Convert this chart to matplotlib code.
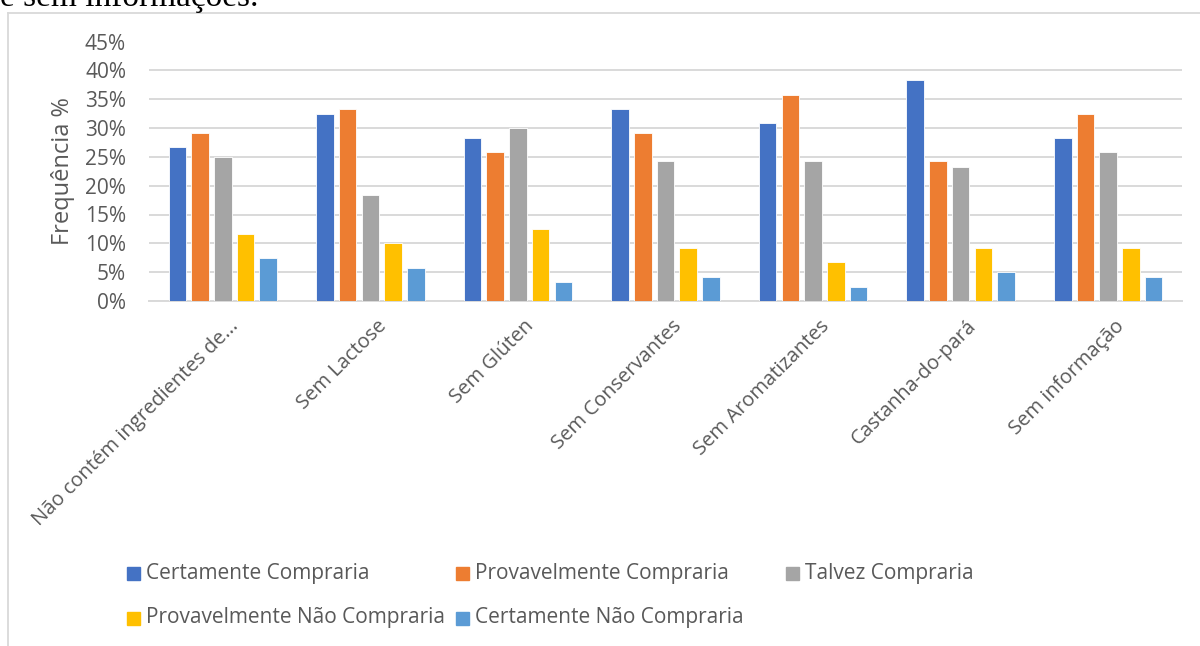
import numpy as np
import matplotlib.pyplot as plt
from matplotlib.lines import Line2D
from matplotlib.patches import Rectangle
from matplotlib.ticker import PercentFormatter

# ---- data ----
categorias = ["Não contém ingredientes de...", "Sem Lactose", "Sem Glúten",
              "Sem Conservantes", "Sem Aromatizantes", "Castanha-do-pará",
              "Sem informação"]
series = ["Certamente Compraria", "Provavelmente Compraria", "Talvez Compraria",
          "Provavelmente Não Compraria", "Certamente Não Compraria"]
certamente_compraria   = [26.7, 32.5, 28.3, 33.3, 30.8, 38.3, 28.3]
provavelmente_compraria = [29.2, 33.3, 25.8, 29.2, 35.8, 24.2, 32.5]
talvez_compraria       = [25.0, 18.3, 30.0, 24.2, 24.2, 23.3, 25.8]
provavelmente_nao      = [11.7, 10.0, 12.5, 9.2, 6.7, 9.2, 9.2]
certamente_nao         = [7.5, 5.8, 3.3, 4.2, 2.5, 5.0, 4.2]
valores = [certamente_compraria, provavelmente_compraria, talvez_compraria,
           provavelmente_nao, certamente_nao]
cores = ["#4472C4", "#ED7D31", "#A5A5A5", "#FFC000", "#5B9BD5"]

TXT = "#595959"
GRID = "#D9D9D9"
FONT = "Open Sans"

fig = plt.figure(figsize=(12, 6.46), dpi=100)
fig.patch.set_facecolor("white")

# texto do documento cortado no topo
fig.text(0.0, 1 - 6 / 646, "e sem informações.", family="Liberation Serif",
         fontsize=24, va="baseline", ha="left", color="black")

# borda da área do gráfico
fig.add_artist(Line2D([8 / 1200, 8 / 1200], [0, 1 - 12.7 / 646],
                      transform=fig.transFigure, color=GRID, lw=1.3))
fig.add_artist(Line2D([8 / 1200, 1], [1 - 12.7 / 646, 1 - 12.7 / 646],
                      transform=fig.transFigure, color=GRID, lw=1.3))

ax = fig.add_axes([149 / 1200, 1 - 301 / 646, (1182 - 149) / 1200, (301 - 41.5) / 646])

x = np.arange(len(categorias))
passo = 0.154
larg = 0.119
for i, (nome, vals, cor) in enumerate(zip(series, valores, cores)):
    ax.bar(x + (i - 2) * passo, np.array(vals) / 100, width=larg, color=cor,
           edgecolor="white", linewidth=0.6, label=nome, zorder=3)

ax.set_xlim(-0.5, len(categorias) - 0.5)
ax.set_ylim(0, 0.45)
ax.set_yticks(np.arange(0, 0.451, 0.05))
ax.yaxis.set_major_formatter(PercentFormatter(1.0, decimals=0))
ax.yaxis.grid(True, color=GRID, lw=1.4, zorder=0)
ax.set_axisbelow(True)
for s in ["top", "right", "left"]:
    ax.spines[s].set_visible(False)
ax.spines["bottom"].set_color(GRID)
ax.spines["bottom"].set_linewidth(1.4)
ax.tick_params(axis="both", length=0, labelcolor=TXT, labelsize=15)
ax.tick_params(axis="y", pad=16.5)
for lbl in ax.get_yticklabels():
    lbl.set_family(FONT)

ax.set_xticks(x + 0.04)
ax.set_xticklabels(categorias, rotation=45, ha="right", va="top",
                   rotation_mode="anchor", family=FONT, fontsize=14.5, color=TXT)
ax.tick_params(axis="x", pad=11)

ax.set_ylabel("Frequência %", family=FONT, fontsize=17, color=TXT, labelpad=7.5)

# legenda manual (Excel)
pos = [(127, 573), (456, 573), (786, 573), (127, 618), (456, 618)]
for (px, py), nome, cor in zip(pos, series, cores):
    fig.add_artist(Rectangle((px / 1200, 1 - (py + 6.5) / 646), 13 / 1200, 13 / 646,
                             transform=fig.transFigure, color=cor))
    fig.text((px + 19) / 1200, 1 - py / 646, nome, family=FONT, fontsize=15,
             color=TXT, va="center", ha="left")

fig.savefig("out.png", dpi=100)
